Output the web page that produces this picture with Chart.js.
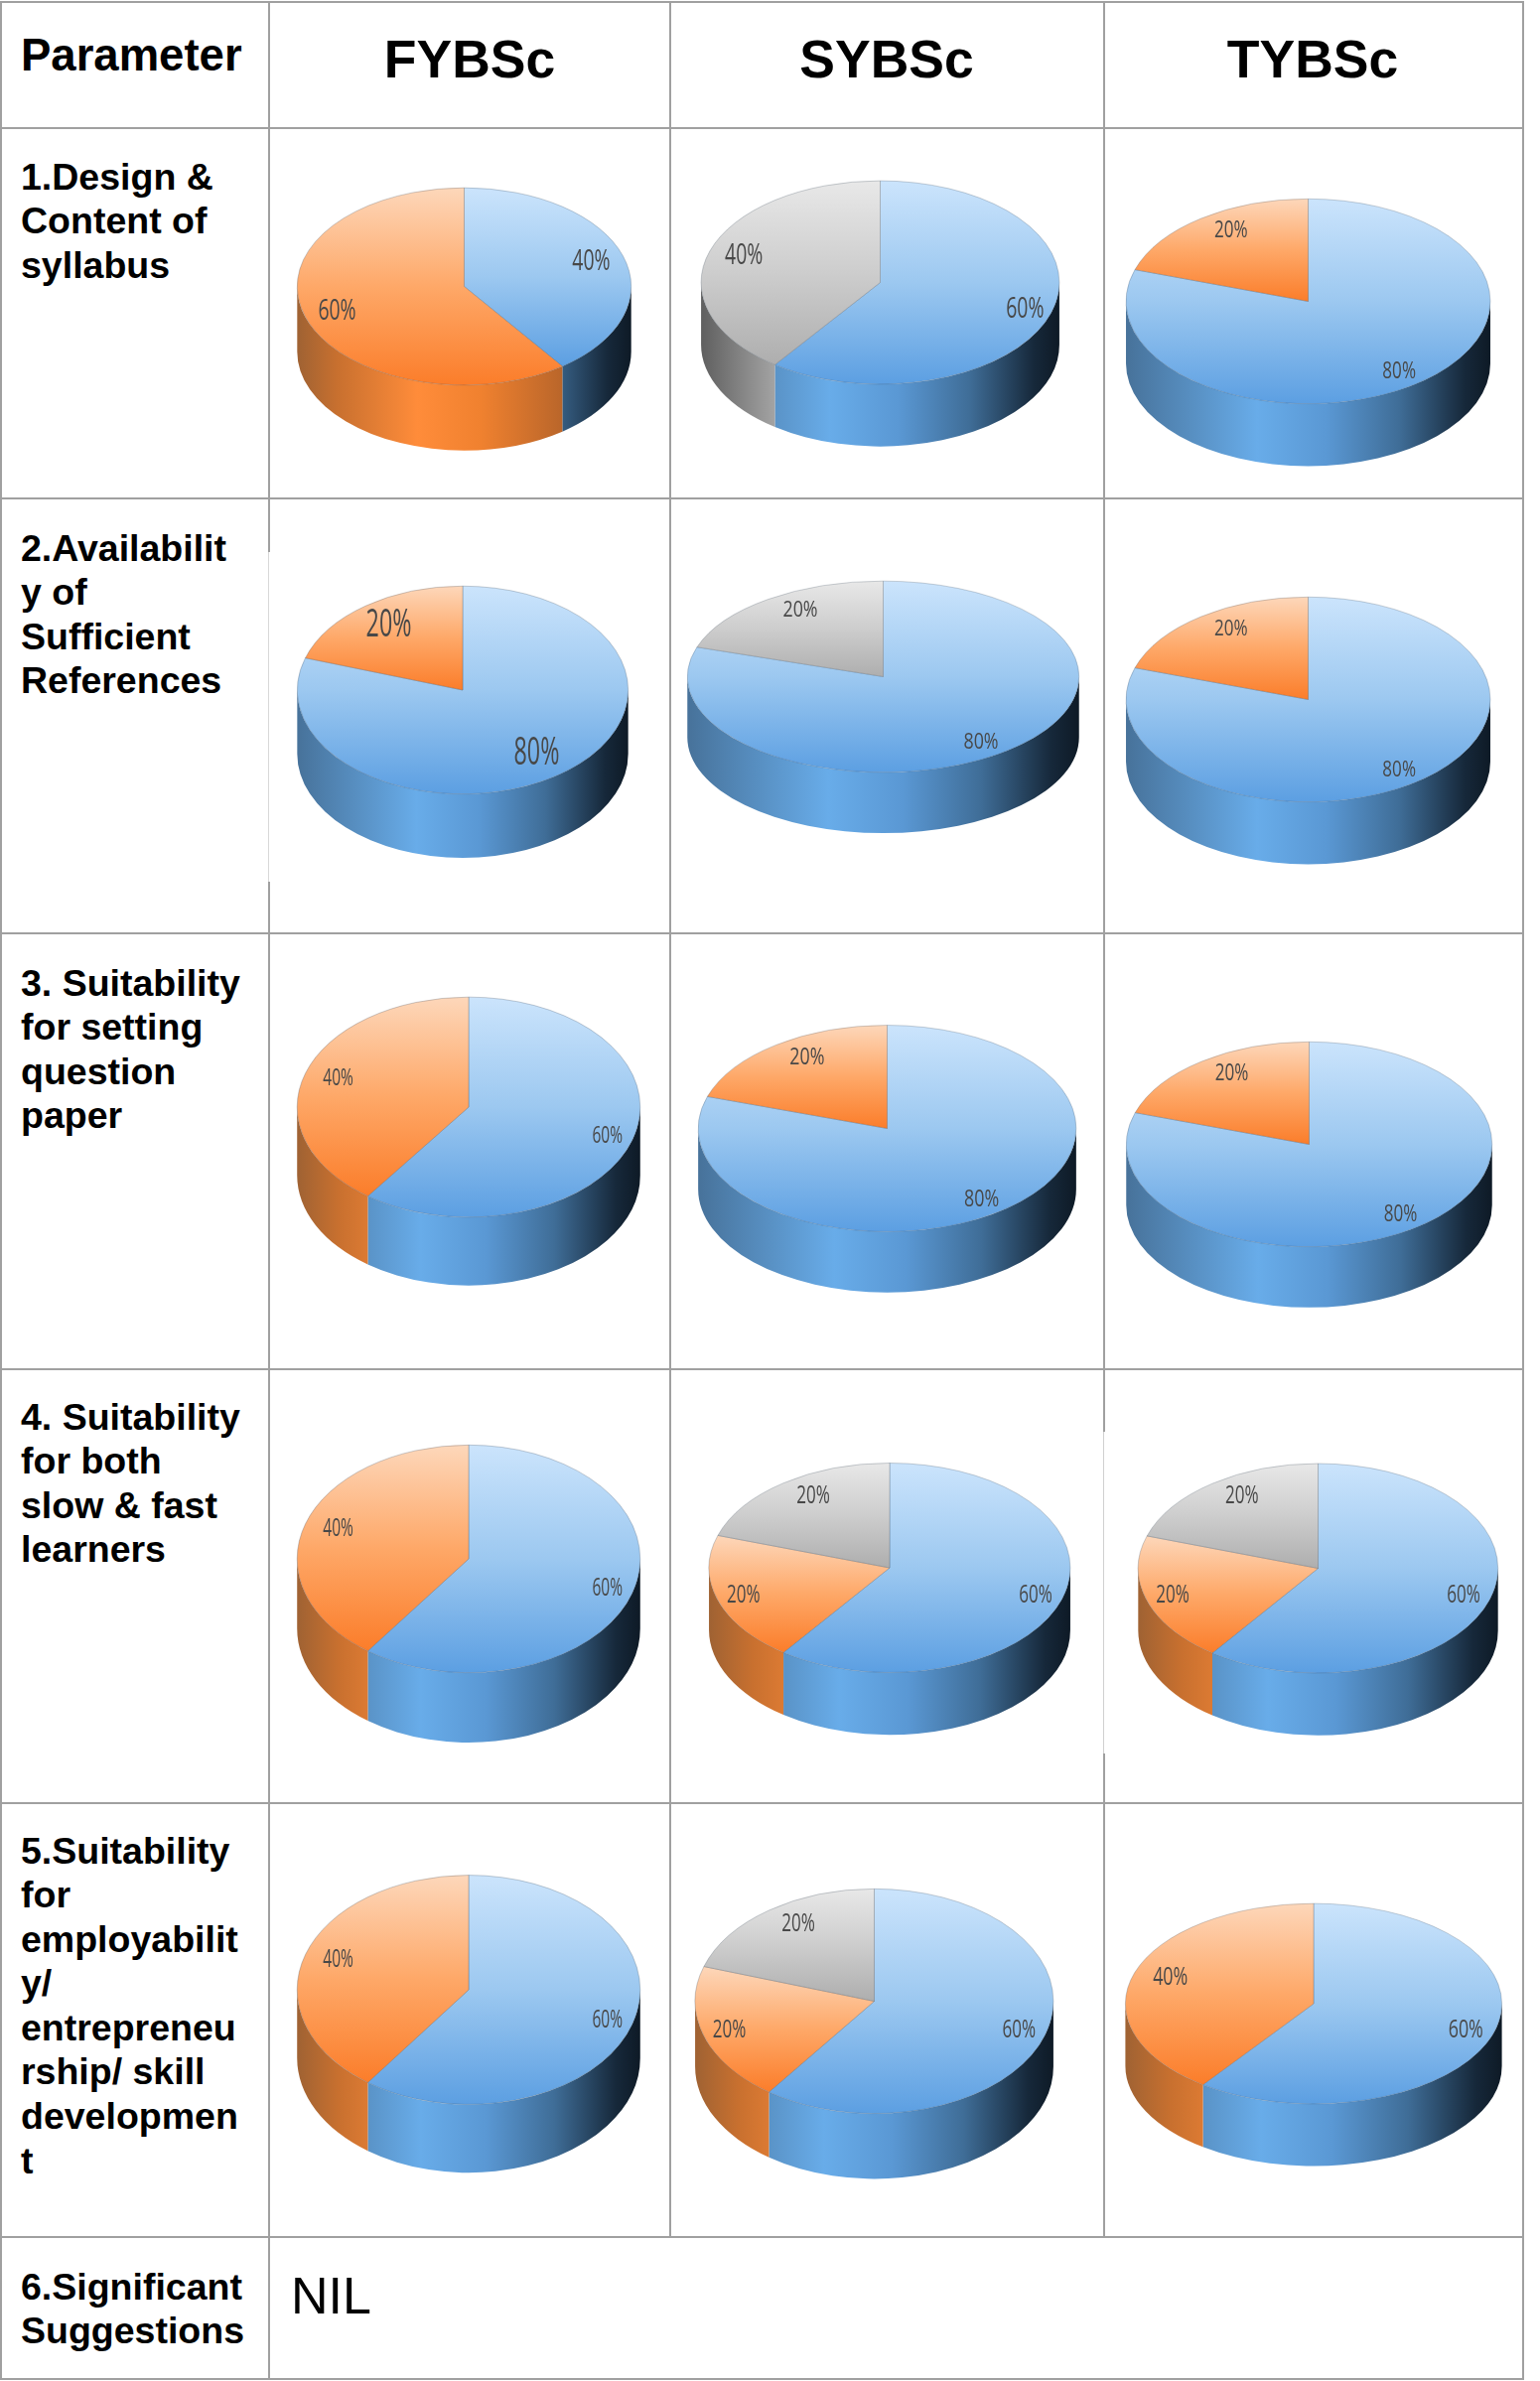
<!DOCTYPE html>
<html>
<head>
<meta charset="utf-8">
<script src="https://cdn.jsdelivr.net/npm/chart.js@4"></script>
<style>
  html, body { margin: 0; padding: 0; background: #fff; }
  #page { position: relative; width: 1551px; height: 2398px; overflow: hidden; font-family: "Liberation Sans", Arial, sans-serif; color: #000; }
  .txt { position: absolute; font-weight: bold; font-size: 37.5px; line-height: 44.6px; white-space: nowrap; }
  .head { font-size: 53.5px; line-height: 60px; transform: translateX(-50%); }
  .line { position: absolute; background: #a0a0a0; }
  canvas { position: absolute; }
</style>
</head>
<body>
<div id="page"></div>
<script>
// values, row = parameter, column = class
var classes = ['FYBSc', 'SYBSc', 'TYBSc'];
var parameters = [
  '1.Design &amp;<br>Content of<br>syllabus',
  '2.Availabilit<br>y of<br>Sufficient<br>References',
  '3. Suitability<br>for setting<br>question<br>paper',
  '4. Suitability<br>for both<br>slow &amp; fast<br>learners',
  '5.Suitability<br>for<br>employabilit<br>y/<br>entrepreneu<br>rship/ skill<br>developmen<br>t'
];
var sliceNames = ['Blue', 'Orange', 'Grey'];
var blueShare = [[40, 60, 80], [80, 80, 80], [60, 80, 80], [60, 60, 60], [60, 60, 60]];
var orangeShare = [[60, 0, 20], [20, 0, 20], [40, 20, 20], [40, 20, 20], [40, 20, 40]];
var greyShare = [[0, 40, 0], [0, 20, 0], [0, 0, 0], [0, 20, 20], [0, 20, 0]];

// where each pie sits: left, right, top of face, bottom of face, bottom of wall, label w, label h, label reach (optional)
var S = 1.529;
var placement = [
  [[196, 416, 124, 254, 297, 25, 14, 0.8], [462, 698, 119, 253, 294, 25, 14], [742, 982, 131, 266, 307, 22, 11]],
  [[196, 414, 386, 523, 565, 30, 18, 0.76], [453, 711, 383, 509, 549, 23, 10], [742, 982, 393, 528, 569, 22, 10]],
  [[196, 422, 657, 802, 847, 20, 11], [460, 709, 675, 811, 851, 23, 11], [742, 983, 686, 821, 861, 22, 11]],
  [[196, 422, 952, 1102, 1148, 20, 12], [467, 705, 964, 1102, 1143, 22, 12], [750, 987, 964, 1102, 1143, 22, 12]],
  [[196, 422, 1235, 1386, 1431, 20, 12], [458, 694, 1244, 1392, 1435, 22, 12], [741, 989, 1254, 1386, 1427, 23, 12]]
];

var faceStops = {
  Blue: ['#cbe4fc', '#9cc8f0', '#5c9fe2'],
  Orange: ['#fdd7ba', '#fea868', '#fb7d2a'],
  Grey: ['#e8e8e8', '#cdcdcd', '#aeaeae']
};
var wallStops = {
  Blue: [[0, '#47729a'], [0.36, '#68ace9'], [0.55, '#5a98d4'], [0.75, '#3f6d97'], [0.93, '#16283a'], [1, '#0e1a26']],
  Orange: [[0, '#9f6233'], [0.12, '#c8702f'], [0.36, '#ff8c3a'], [0.55, '#f0812f'], [0.8, '#b8652a'], [1, '#6a3a18']],
  Grey: [[0, '#5f5f5f'], [0.22, '#a8a8a8'], [0.4, '#c0c0c0'], [1, '#555555']]
};

var page = document.getElementById('page');

function addLine(x, y, w, h, colour) {
  var d = document.createElement('div');
  d.className = 'line';
  d.style.cssText = 'left:' + x + 'px;top:' + y + 'px;width:' + w + 'px;height:' + h + 'px;' + (colour ? 'background:' + colour : '');
  page.appendChild(d);
}
function addText(html, x, y, cls, size) {
  var d = document.createElement('div');
  d.className = 'txt ' + (cls || '');
  d.style.left = x + 'px';
  d.style.top = y + 'px';
  if (size) d.style.fontSize = size + 'px';
  d.innerHTML = html;
  page.appendChild(d);
}

// grid
[1, 128, 501, 939, 1378, 1815, 2252, 2395].forEach(function (y) { addLine(0, y, 1534, 2); });
addLine(0, 1, 2, 2396);
addLine(1533, 1, 2, 2396);
addLine(270, 1, 2, 555);
addLine(270, 556, 1, 332, '#d8d8d8');
addLine(270, 888, 2, 1509);
addLine(674, 1, 2, 2252);
addLine(1111, 1, 2, 1441);
addLine(1111, 1442, 1, 324, '#d0d0d0');
addLine(1111, 1766, 2, 487);

// text
addText('Parameter', 21, 34, '', 45.5);
classes.forEach(function (c, i) { addText(c, [473, 893, 1322][i], 30, 'head'); });
var textTops = [155.5, 529.5, 967.5, 1404.5, 1841.5];
parameters.forEach(function (p, i) { addText(p, 21, textTops[i]); });
addText('6.Significant<br>Suggestions', 21, 2280.5);
addText('NIL', 293, 2290, '', 52);
page.lastChild.style.fontWeight = 'normal';

// squashes the pie into an ellipse and draws the wall underneath it
var pie3d = {
  id: 'pie3d',
  beforeDatasetsDraw: function (chart, args, opts) {
    var ctx = chart.ctx;
    var arcs = chart.getDatasetMeta(0).data;
    var cx = arcs[0].x, cy = arcs[0].y, r = arcs[0].outerRadius;
    ctx.save();
    ctx.translate(cx, cy);
    ctx.scale(1, opts.squash);
    ctx.translate(-cx, -cy);
    var d = opts.depth / opts.squash;
    arcs.forEach(function (arc, i) {
      var a0 = Math.max(arc.startAngle, 0);
      var a1 = Math.min(arc.endAngle, Math.PI);
      if (a1 <= a0) return;
      var g = ctx.createLinearGradient(cx - r, 0, cx + r, 0);
      wallStops[sliceNames[i]].forEach(function (s) { g.addColorStop(s[0], s[1]); });
      ctx.beginPath();
      ctx.arc(cx, cy, r, a0, a1);
      ctx.arc(cx, cy + d, r, a1, a0, true);
      ctx.closePath();
      ctx.fillStyle = g;
      ctx.fill();
    });
  },
  afterDatasetsDraw: function (chart, args, opts) {
    var ctx = chart.ctx;
    ctx.restore();
    var meta = chart.getDatasetMeta(0);
    var values = chart.data.datasets[0].data;
    var total = values.reduce(function (a, b) { return a + b; }, 0);
    meta.data.forEach(function (arc, i) {
      if (!values[i]) return;
      var mid = (arc.startAngle + arc.endAngle) / 2;
      // labels in the upper left sit further in than the others
      var reachX = mid > 1.1 * Math.PI ? 0.72 : mid > Math.PI ? 0.8 : mid < 0 ? 0.8 : 0.85;
      var reachY = 0.85;
      if (opts.reach) { reachX = opts.reach; reachY = opts.reach; }
      var x = arc.x + Math.cos(mid) * arc.outerRadius * reachX;
      var y = arc.y + Math.sin(mid) * arc.outerRadius * reachY * opts.squash;
      var text = Math.round(values[i] / total * 100) + '%';
      ctx.save();
      ctx.font = (opts.labelH / 0.72) + 'px "Open Sans"';
      ctx.translate(x, y);
      ctx.scale(opts.labelW / ctx.measureText(text).width, 1);
      ctx.fillStyle = '#484848';
      ctx.textAlign = 'center';
      ctx.textBaseline = 'middle';
      ctx.fillText(text, 0, 0);
      ctx.restore();
    });
  }
};

// top and bottom of a slice on the unit circle, y going down, centre included
function sliceExtent(values, index) {
  var total = values.reduce(function (a, b) { return a + b; }, 0);
  var before = values.slice(0, index).reduce(function (a, b) { return a + b; }, 0);
  var t0 = before / total * 2 * Math.PI;
  var t1 = (before + values[index]) / total * 2 * Math.PI;
  var ys = [0, -Math.cos(t0), -Math.cos(t1)];
  if (t0 <= Math.PI && t1 >= Math.PI) ys.push(1);
  return [Math.min.apply(null, ys), Math.max.apply(null, ys)];
}

// each slice runs through the whole gradient from its own top to its own bottom
function faceColour(context) {
  var stops = faceStops[sliceNames[context.dataIndex]];
  var area = context.chart.chartArea;
  if (!area) return stops[2];
  var half = (area.bottom - area.top) / 2;
  var cy = area.top + half;
  var r = half - 30;
  var ext = sliceExtent(context.dataset.data, context.dataIndex);
  var grad = context.chart.ctx.createLinearGradient(0, cy + ext[0] * r, 0, cy + ext[1] * r);
  grad.addColorStop(0, stops[0]);
  grad.addColorStop(0.5, stops[1]);
  grad.addColorStop(1, stops[2]);
  return grad;
}

parameters.forEach(function (p, row) {
  classes.forEach(function (c, col) {
    var pl = placement[row][col];
    var left = pl[0] * S, right = pl[1] * S, top = pl[2] * S, bottom = pl[3] * S, wall = pl[4] * S;
    var rx = (right - left) / 2;
    var ry = (bottom - top) / 2;
    var side = Math.ceil(2 * rx + 60);

    var canvas = document.createElement('canvas');
    canvas.width = side;
    canvas.height = side;
    canvas.style.left = ((left + right) / 2 - side / 2) + 'px';
    canvas.style.top = (top + ry - side / 2) + 'px';
    canvas.style.width = side + 'px';
    canvas.style.height = side + 'px';
    page.appendChild(canvas);

    new Chart(canvas.getContext('2d'), {
      type: 'pie',
      data: {
        labels: sliceNames,
        datasets: [{
          data: [blueShare[row][col], orangeShare[row][col], greyShare[row][col]],
          backgroundColor: faceColour,
          borderColor: 'rgba(70,85,100,0.35)',
          borderWidth: 1
        }]
      },
      plugins: [pie3d],
      options: {
        responsive: false,
        animation: false,
        devicePixelRatio: 1,
        radius: rx,
        layout: { padding: 0 },
        plugins: {
          legend: { display: false },
          tooltip: { enabled: false },
          pie3d: { squash: ry / rx, depth: wall - bottom, labelW: pl[5] * S, labelH: pl[6] * S, reach: pl[7] || 0 }
        }
      }
    });
  });
});
</script>
</body>
</html>
